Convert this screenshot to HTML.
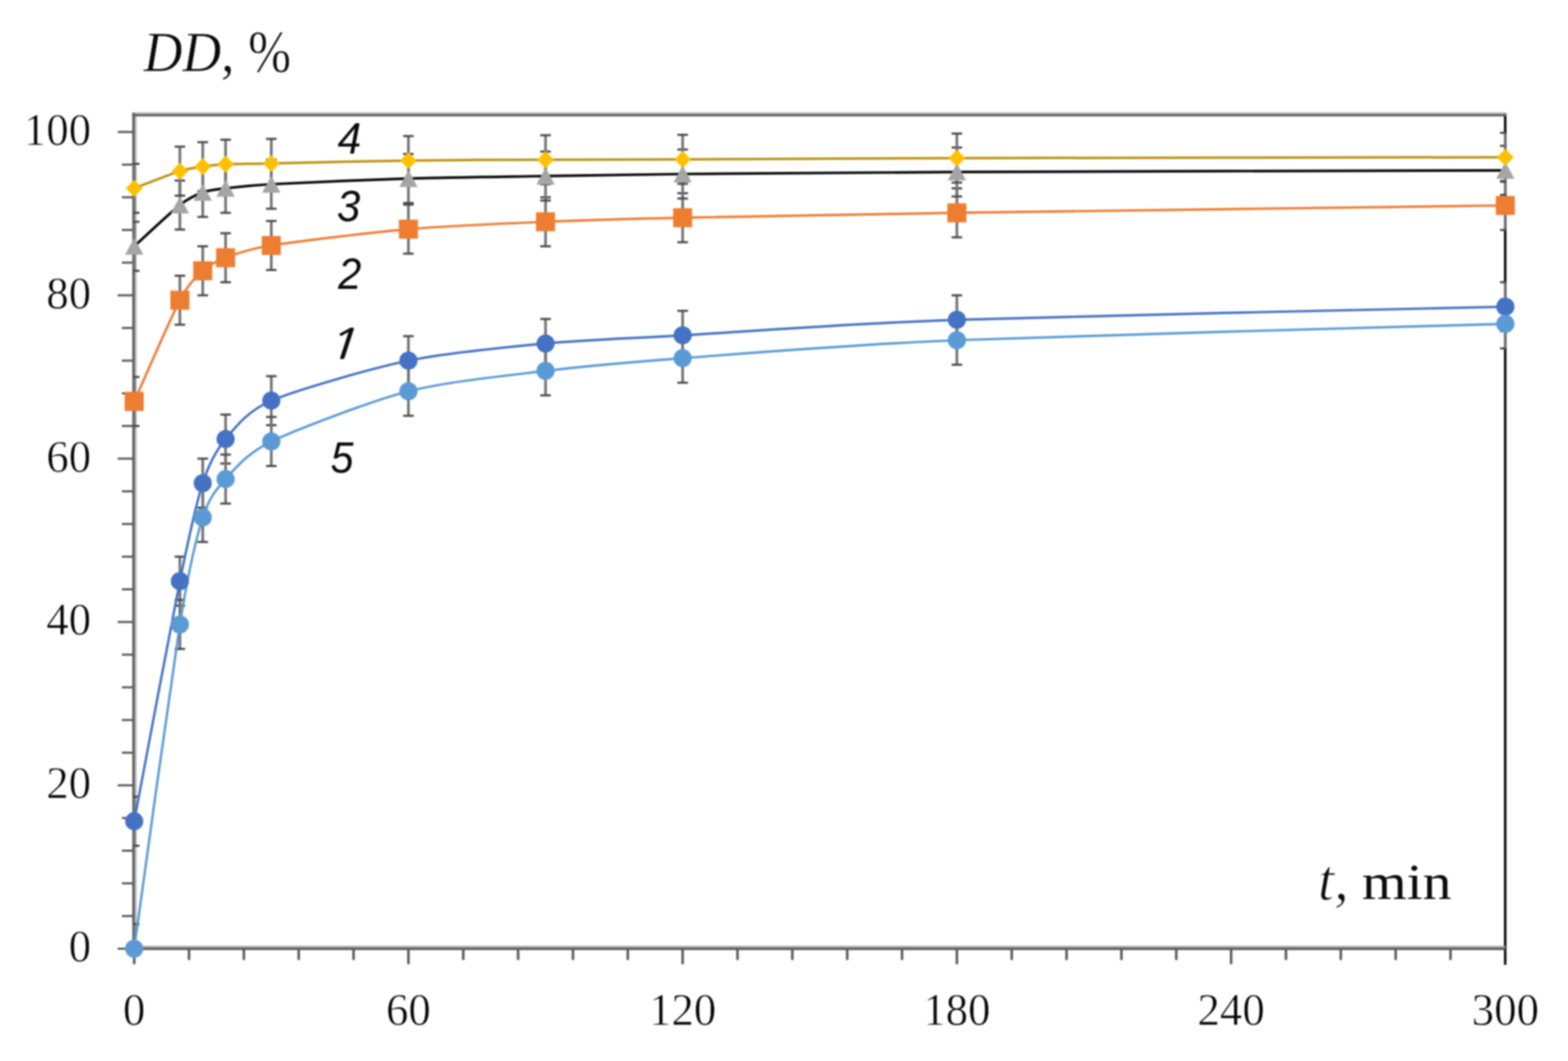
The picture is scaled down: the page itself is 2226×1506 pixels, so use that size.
<!DOCTYPE html>
<html lang="en"><head><meta charset="utf-8"><title>DD, % vs t, min</title>
<style>
html,body{margin:0;padding:0;background:#fff;}
body{width:2226px;height:1506px;overflow:hidden;}
svg{display:block;filter:blur(0.8px);}
.tick{font-family:"Liberation Serif",serif;font-size:65.6px;fill:#050505;stroke:#fff;stroke-width:0.8px;}
.ttl{font-family:"Liberation Serif",serif;fill:#0a0a0a;}
.num{font-family:"Liberation Sans",sans-serif;font-style:italic;font-size:63px;fill:#0a0a0a;}
</style></head><body>
<svg width="2226" height="1506" viewBox="0 0 2226 1506" role="img" aria-label="DD, % versus t, min">
<rect width="2226" height="1506" fill="#fff"/>
<defs><clipPath id="pc"><rect x="189" y="162" width="1949.75" height="1186.5"/></clipPath></defs>
<g id="frame">
<rect x="2135.15" y="162" width="3.4" height="1207.5" fill="#000"/>
<rect x="187.8" y="159.6" width="1950.75" height="2.6" fill="#ababab"/>
<rect x="187.8" y="162.2" width="1950.75" height="3" fill="#5b5b5b"/>
<rect x="187.8" y="160" width="3.4" height="1188.6" fill="#5b5b5b"/>
<rect x="191.2" y="165" width="2.6" height="1177.6" fill="#ababab"/>
<rect x="187.8" y="1342.5" width="1949.25" height="2.6" fill="#ababab"/>
<rect x="187.8" y="1345.1" width="1949.25" height="3.4" fill="#5b5b5b"/>
</g>
<g id="ticks" fill="#5b5b5b">
<rect x="167" y="1345.1" width="22" height="3"/>
<rect x="173" y="1298.73" width="16" height="3"/>
<rect x="173" y="1252.36" width="16" height="3"/>
<rect x="173" y="1205.98" width="16" height="3"/>
<rect x="173" y="1159.61" width="16" height="3"/>
<rect x="167" y="1113.24" width="22" height="3"/>
<rect x="173" y="1066.87" width="16" height="3"/>
<rect x="173" y="1020.5" width="16" height="3"/>
<rect x="173" y="974.12" width="16" height="3"/>
<rect x="173" y="927.75" width="16" height="3"/>
<rect x="167" y="881.38" width="22" height="3"/>
<rect x="173" y="835.01" width="16" height="3"/>
<rect x="173" y="788.64" width="16" height="3"/>
<rect x="173" y="742.26" width="16" height="3"/>
<rect x="173" y="695.89" width="16" height="3"/>
<rect x="167" y="649.52" width="22" height="3"/>
<rect x="173" y="603.15" width="16" height="3"/>
<rect x="173" y="556.78" width="16" height="3"/>
<rect x="173" y="510.4" width="16" height="3"/>
<rect x="173" y="464.03" width="16" height="3"/>
<rect x="167" y="417.66" width="22" height="3"/>
<rect x="173" y="371.29" width="16" height="3"/>
<rect x="173" y="324.92" width="16" height="3"/>
<rect x="173" y="278.54" width="16" height="3"/>
<rect x="173" y="232.17" width="16" height="3"/>
<rect x="167" y="185.8" width="22" height="3"/>
<rect x="188.7" y="1346.6" width="3.6" height="22"/>
<rect x="266.56" y="1346.6" width="3.6" height="16"/>
<rect x="344.42" y="1346.6" width="3.6" height="16"/>
<rect x="422.29" y="1346.6" width="3.6" height="16"/>
<rect x="500.15" y="1346.6" width="3.6" height="16"/>
<rect x="578.01" y="1346.6" width="3.6" height="22"/>
<rect x="655.87" y="1346.6" width="3.6" height="16"/>
<rect x="733.73" y="1346.6" width="3.6" height="16"/>
<rect x="811.6" y="1346.6" width="3.6" height="16"/>
<rect x="889.46" y="1346.6" width="3.6" height="16"/>
<rect x="967.32" y="1346.6" width="3.6" height="22"/>
<rect x="1045.18" y="1346.6" width="3.6" height="16"/>
<rect x="1123.04" y="1346.6" width="3.6" height="16"/>
<rect x="1200.91" y="1346.6" width="3.6" height="16"/>
<rect x="1278.77" y="1346.6" width="3.6" height="16"/>
<rect x="1356.63" y="1346.6" width="3.6" height="22"/>
<rect x="1434.49" y="1346.6" width="3.6" height="16"/>
<rect x="1512.35" y="1346.6" width="3.6" height="16"/>
<rect x="1590.22" y="1346.6" width="3.6" height="16"/>
<rect x="1668.08" y="1346.6" width="3.6" height="16"/>
<rect x="1745.94" y="1346.6" width="3.6" height="22"/>
<rect x="1823.8" y="1346.6" width="3.6" height="16"/>
<rect x="1901.66" y="1346.6" width="3.6" height="16"/>
<rect x="1979.53" y="1346.6" width="3.6" height="16"/>
<rect x="2057.39" y="1346.6" width="3.6" height="16"/>
</g>
<g id="errorbars" clip-path="url(#pc)">
<rect x="188.6" y="1130.97" width="3.8" height="69.56" fill="#737373"/>
<rect x="183" y="1129.47" width="15" height="3" fill="#4a4a4a"/>
<rect x="183" y="1199.03" width="15" height="3" fill="#4a4a4a"/>
<rect x="253.48" y="790.14" width="3.8" height="69.56" fill="#737373"/>
<rect x="247.88" y="788.64" width="15" height="3" fill="#4a4a4a"/>
<rect x="247.88" y="858.19" width="15" height="3" fill="#4a4a4a"/>
<rect x="285.93" y="651.02" width="3.8" height="69.56" fill="#737373"/>
<rect x="280.33" y="649.52" width="15" height="3" fill="#4a4a4a"/>
<rect x="280.33" y="719.08" width="15" height="3" fill="#4a4a4a"/>
<rect x="318.37" y="588.42" width="3.8" height="69.56" fill="#737373"/>
<rect x="312.77" y="586.92" width="15" height="3" fill="#4a4a4a"/>
<rect x="312.77" y="656.48" width="15" height="3" fill="#4a4a4a"/>
<rect x="383.25" y="533.93" width="3.8" height="69.56" fill="#737373"/>
<rect x="377.65" y="532.43" width="15" height="3" fill="#4a4a4a"/>
<rect x="377.65" y="601.99" width="15" height="3" fill="#4a4a4a"/>
<rect x="577.91" y="477.12" width="3.8" height="69.56" fill="#737373"/>
<rect x="572.31" y="475.62" width="15" height="3" fill="#4a4a4a"/>
<rect x="572.31" y="545.18" width="15" height="3" fill="#4a4a4a"/>
<rect x="772.57" y="452.78" width="3.8" height="69.56" fill="#737373"/>
<rect x="766.97" y="451.28" width="15" height="3" fill="#4a4a4a"/>
<rect x="766.97" y="520.84" width="15" height="3" fill="#4a4a4a"/>
<rect x="967.22" y="441.19" width="3.8" height="69.56" fill="#737373"/>
<rect x="961.62" y="439.69" width="15" height="3" fill="#4a4a4a"/>
<rect x="961.62" y="509.24" width="15" height="3" fill="#4a4a4a"/>
<rect x="1356.53" y="419.16" width="3.8" height="69.56" fill="#737373"/>
<rect x="1350.93" y="417.66" width="15" height="3" fill="#4a4a4a"/>
<rect x="1350.93" y="487.22" width="15" height="3" fill="#4a4a4a"/>
<rect x="2135.15" y="400.61" width="3.8" height="69.56" fill="#737373"/>
<rect x="2129.55" y="399.11" width="15" height="3" fill="#4a4a4a"/>
<rect x="2129.55" y="468.67" width="15" height="3" fill="#4a4a4a"/>
<rect x="188.6" y="535.09" width="3.8" height="69.56" fill="#737373"/>
<rect x="183" y="533.59" width="15" height="3" fill="#4a4a4a"/>
<rect x="183" y="603.15" width="15" height="3" fill="#4a4a4a"/>
<rect x="253.48" y="391.34" width="3.8" height="69.56" fill="#737373"/>
<rect x="247.88" y="389.84" width="15" height="3" fill="#4a4a4a"/>
<rect x="247.88" y="459.39" width="15" height="3" fill="#4a4a4a"/>
<rect x="285.93" y="349.6" width="3.8" height="69.56" fill="#737373"/>
<rect x="280.33" y="348.1" width="15" height="3" fill="#4a4a4a"/>
<rect x="280.33" y="417.66" width="15" height="3" fill="#4a4a4a"/>
<rect x="318.37" y="331.05" width="3.8" height="69.56" fill="#737373"/>
<rect x="312.77" y="329.55" width="15" height="3" fill="#4a4a4a"/>
<rect x="312.77" y="399.11" width="15" height="3" fill="#4a4a4a"/>
<rect x="383.25" y="313.66" width="3.8" height="69.56" fill="#737373"/>
<rect x="377.65" y="312.16" width="15" height="3" fill="#4a4a4a"/>
<rect x="377.65" y="381.72" width="15" height="3" fill="#4a4a4a"/>
<rect x="577.91" y="290.48" width="3.8" height="69.56" fill="#737373"/>
<rect x="572.31" y="288.98" width="15" height="3" fill="#4a4a4a"/>
<rect x="572.31" y="358.54" width="15" height="3" fill="#4a4a4a"/>
<rect x="772.57" y="280.04" width="3.8" height="69.56" fill="#737373"/>
<rect x="766.97" y="278.54" width="15" height="3" fill="#4a4a4a"/>
<rect x="766.97" y="348.1" width="15" height="3" fill="#4a4a4a"/>
<rect x="967.22" y="274.25" width="3.8" height="69.56" fill="#737373"/>
<rect x="961.62" y="272.75" width="15" height="3" fill="#4a4a4a"/>
<rect x="961.62" y="342.31" width="15" height="3" fill="#4a4a4a"/>
<rect x="1356.53" y="267.29" width="3.8" height="69.56" fill="#737373"/>
<rect x="1350.93" y="265.79" width="15" height="3" fill="#4a4a4a"/>
<rect x="1350.93" y="335.35" width="15" height="3" fill="#4a4a4a"/>
<rect x="2135.15" y="256.86" width="3.8" height="69.56" fill="#737373"/>
<rect x="2129.55" y="255.36" width="15" height="3" fill="#4a4a4a"/>
<rect x="2129.55" y="324.92" width="15" height="3" fill="#4a4a4a"/>
<rect x="188.6" y="314.82" width="3.8" height="69.56" fill="#737373"/>
<rect x="183" y="313.32" width="15" height="3" fill="#4a4a4a"/>
<rect x="183" y="382.88" width="15" height="3" fill="#4a4a4a"/>
<rect x="253.48" y="256.28" width="3.8" height="69.56" fill="#737373"/>
<rect x="247.88" y="254.78" width="15" height="3" fill="#4a4a4a"/>
<rect x="247.88" y="324.34" width="15" height="3" fill="#4a4a4a"/>
<rect x="285.93" y="238.31" width="3.8" height="69.56" fill="#737373"/>
<rect x="280.33" y="236.81" width="15" height="3" fill="#4a4a4a"/>
<rect x="280.33" y="306.37" width="15" height="3" fill="#4a4a4a"/>
<rect x="318.37" y="232.51" width="3.8" height="69.56" fill="#737373"/>
<rect x="312.77" y="231.01" width="15" height="3" fill="#4a4a4a"/>
<rect x="312.77" y="300.57" width="15" height="3" fill="#4a4a4a"/>
<rect x="383.25" y="226.72" width="3.8" height="69.56" fill="#737373"/>
<rect x="377.65" y="225.22" width="15" height="3" fill="#4a4a4a"/>
<rect x="377.65" y="294.77" width="15" height="3" fill="#4a4a4a"/>
<rect x="577.91" y="218.6" width="3.8" height="69.56" fill="#737373"/>
<rect x="572.31" y="217.1" width="15" height="3" fill="#4a4a4a"/>
<rect x="572.31" y="286.66" width="15" height="3" fill="#4a4a4a"/>
<rect x="772.57" y="215.12" width="3.8" height="69.56" fill="#737373"/>
<rect x="766.97" y="213.62" width="15" height="3" fill="#4a4a4a"/>
<rect x="766.97" y="283.18" width="15" height="3" fill="#4a4a4a"/>
<rect x="967.22" y="212.22" width="3.8" height="69.56" fill="#737373"/>
<rect x="961.62" y="210.72" width="15" height="3" fill="#4a4a4a"/>
<rect x="961.62" y="280.28" width="15" height="3" fill="#4a4a4a"/>
<rect x="1356.53" y="209.33" width="3.8" height="69.56" fill="#737373"/>
<rect x="1350.93" y="207.83" width="15" height="3" fill="#4a4a4a"/>
<rect x="1350.93" y="277.38" width="15" height="3" fill="#4a4a4a"/>
<rect x="2135.15" y="207.01" width="3.8" height="69.56" fill="#737373"/>
<rect x="2129.55" y="205.51" width="15" height="3" fill="#4a4a4a"/>
<rect x="2129.55" y="275.07" width="15" height="3" fill="#4a4a4a"/>
<rect x="188.6" y="232.51" width="3.8" height="69.56" fill="#737373"/>
<rect x="183" y="231.01" width="15" height="3" fill="#4a4a4a"/>
<rect x="183" y="300.57" width="15" height="3" fill="#4a4a4a"/>
<rect x="253.48" y="208.17" width="3.8" height="69.56" fill="#737373"/>
<rect x="247.88" y="206.67" width="15" height="3" fill="#4a4a4a"/>
<rect x="247.88" y="276.23" width="15" height="3" fill="#4a4a4a"/>
<rect x="285.93" y="201.79" width="3.8" height="69.56" fill="#737373"/>
<rect x="280.33" y="200.29" width="15" height="3" fill="#4a4a4a"/>
<rect x="280.33" y="269.85" width="15" height="3" fill="#4a4a4a"/>
<rect x="318.37" y="198.31" width="3.8" height="69.56" fill="#737373"/>
<rect x="312.77" y="196.81" width="15" height="3" fill="#4a4a4a"/>
<rect x="312.77" y="266.37" width="15" height="3" fill="#4a4a4a"/>
<rect x="383.25" y="197.15" width="3.8" height="69.56" fill="#737373"/>
<rect x="377.65" y="195.65" width="15" height="3" fill="#4a4a4a"/>
<rect x="377.65" y="265.21" width="15" height="3" fill="#4a4a4a"/>
<rect x="577.91" y="193.1" width="3.8" height="69.56" fill="#737373"/>
<rect x="572.31" y="191.6" width="15" height="3" fill="#4a4a4a"/>
<rect x="572.31" y="261.15" width="15" height="3" fill="#4a4a4a"/>
<rect x="772.57" y="191.94" width="3.8" height="69.56" fill="#737373"/>
<rect x="766.97" y="190.44" width="15" height="3" fill="#4a4a4a"/>
<rect x="766.97" y="260" width="15" height="3" fill="#4a4a4a"/>
<rect x="967.22" y="191.36" width="3.8" height="69.56" fill="#737373"/>
<rect x="961.62" y="189.86" width="15" height="3" fill="#4a4a4a"/>
<rect x="961.62" y="259.42" width="15" height="3" fill="#4a4a4a"/>
<rect x="1356.53" y="189.62" width="3.8" height="69.56" fill="#737373"/>
<rect x="1350.93" y="188.12" width="15" height="3" fill="#4a4a4a"/>
<rect x="1350.93" y="257.68" width="15" height="3" fill="#4a4a4a"/>
<rect x="2135.15" y="188.46" width="3.8" height="69.56" fill="#737373"/>
<rect x="2129.55" y="186.96" width="15" height="3" fill="#4a4a4a"/>
<rect x="2129.55" y="256.52" width="15" height="3" fill="#4a4a4a"/>
<rect x="188.6" y="1311.82" width="3.8" height="69.56" fill="#737373"/>
<rect x="183" y="1310.32" width="15" height="3" fill="#4a4a4a"/>
<rect x="183" y="1379.88" width="15" height="3" fill="#4a4a4a"/>
<rect x="253.48" y="851.58" width="3.8" height="69.56" fill="#737373"/>
<rect x="247.88" y="850.08" width="15" height="3" fill="#4a4a4a"/>
<rect x="247.88" y="919.64" width="15" height="3" fill="#4a4a4a"/>
<rect x="285.93" y="699.71" width="3.8" height="69.56" fill="#737373"/>
<rect x="280.33" y="767.77" width="15" height="3" fill="#4a4a4a"/>
<rect x="318.37" y="645.22" width="3.8" height="69.56" fill="#737373"/>
<rect x="312.77" y="643.72" width="15" height="3" fill="#4a4a4a"/>
<rect x="312.77" y="713.28" width="15" height="3" fill="#4a4a4a"/>
<rect x="383.25" y="591.9" width="3.8" height="69.56" fill="#737373"/>
<rect x="377.65" y="590.4" width="15" height="3" fill="#4a4a4a"/>
<rect x="377.65" y="659.95" width="15" height="3" fill="#4a4a4a"/>
<rect x="577.91" y="520.6" width="3.8" height="69.56" fill="#737373"/>
<rect x="572.31" y="519.1" width="15" height="3" fill="#4a4a4a"/>
<rect x="572.31" y="588.66" width="15" height="3" fill="#4a4a4a"/>
<rect x="772.57" y="491.62" width="3.8" height="69.56" fill="#737373"/>
<rect x="766.97" y="490.12" width="15" height="3" fill="#4a4a4a"/>
<rect x="766.97" y="559.67" width="15" height="3" fill="#4a4a4a"/>
<rect x="967.22" y="473.65" width="3.8" height="69.56" fill="#737373"/>
<rect x="961.62" y="472.15" width="15" height="3" fill="#4a4a4a"/>
<rect x="961.62" y="541.71" width="15" height="3" fill="#4a4a4a"/>
<rect x="1356.53" y="448.14" width="3.8" height="69.56" fill="#737373"/>
<rect x="1350.93" y="446.64" width="15" height="3" fill="#4a4a4a"/>
<rect x="1350.93" y="516.2" width="15" height="3" fill="#4a4a4a"/>
<rect x="2135.15" y="424.96" width="3.8" height="69.56" fill="#737373"/>
<rect x="2129.55" y="423.46" width="15" height="3" fill="#4a4a4a"/>
<rect x="2129.55" y="493.01" width="15" height="3" fill="#4a4a4a"/>
</g>
<g id="lines" fill="none" stroke-linecap="round" stroke-linejoin="round">
<path d="M190.5 1165.75 C199.15 1120.3 242.41 888.91 255.38 824.91 C268.36 760.92 279.18 712.69 287.83 685.8 C296.48 658.9 307.29 638.81 320.27 623.2 C333.25 607.58 350.55 583.55 385.15 568.71 C419.76 553.87 527.9 522.72 579.81 511.9 C631.72 501.08 722.56 492.35 774.47 487.56 C826.37 482.77 891.26 480.45 969.12 475.97 C1046.98 471.48 1202.71 459.35 1358.43 453.94 C1514.15 448.53 2033.23 437.86 2137.05 435.39" stroke="#4472c4" stroke-width="3.4"/>
<path d="M190.5 569.87 C199.15 550.7 242.41 450.85 255.38 426.12 C268.36 401.38 279.18 392.42 287.83 384.38 C296.48 376.34 307.29 370.62 320.27 365.83 C333.25 361.04 350.55 353.85 385.15 348.44 C419.76 343.03 527.9 329.74 579.81 325.26 C631.72 320.77 722.56 316.99 774.47 314.82 C826.37 312.66 891.26 310.73 969.12 309.03 C1046.98 307.33 1202.71 304.39 1358.43 302.07 C1514.15 299.75 2033.23 293.03 2137.05 291.64" stroke="#ed7d31" stroke-width="3.4"/>
<path d="M190.5 349.6 C199.15 341.8 242.41 301.26 255.38 291.06 C268.36 280.86 279.18 276.26 287.83 273.09 C296.48 269.92 307.29 268.84 320.27 267.29 C333.25 265.75 350.55 263.35 385.15 261.5 C419.76 259.64 527.9 254.93 579.81 253.38 C631.72 251.83 722.56 250.75 774.47 249.9 C826.37 249.05 891.26 247.78 969.12 247 C1046.98 246.23 1202.71 244.8 1358.43 244.11 C1514.15 243.41 2033.23 242.1 2137.05 241.79" stroke="#080808" stroke-width="3.7"/>
<path d="M190.5 267.29 C199.15 264.05 242.41 247.04 255.38 242.95 C268.36 238.85 279.18 237.88 287.83 236.57 C296.48 235.26 307.29 233.71 320.27 233.09 C333.25 232.47 350.55 232.63 385.15 231.93 C419.76 231.24 527.9 228.57 579.81 227.88 C631.72 227.18 722.56 226.95 774.47 226.72 C826.37 226.48 891.26 226.45 969.12 226.14 C1046.98 225.83 1202.71 224.78 1358.43 224.4 C1514.15 224.01 2033.23 223.39 2137.05 223.24" stroke="#bb9210" stroke-width="3.5"/>
<path d="M190.5 1346.6 C199.15 1285.23 242.41 967.97 255.38 886.36 C268.36 804.74 279.18 762 287.83 734.49 C296.48 706.98 307.29 694.38 320.27 680 C333.25 665.63 350.55 643.29 385.15 626.67 C419.76 610.06 527.9 568.75 579.81 555.38 C631.72 542.01 722.56 532.66 774.47 526.4 C826.37 520.14 891.26 514.22 969.12 508.43 C1046.98 502.63 1202.71 489.41 1358.43 482.92 C1514.15 476.43 2033.23 462.83 2137.05 459.74" stroke="#5b9bd5" stroke-width="3.4"/>
</g>
<g id="markers">
<g fill="#4472c4">
<circle cx="190.5" cy="1165.75" r="12.9"/>
<circle cx="255.38" cy="824.91" r="12.9"/>
<circle cx="287.83" cy="685.8" r="12.9"/>
<circle cx="320.27" cy="623.2" r="12.9"/>
<circle cx="385.15" cy="568.71" r="12.9"/>
<circle cx="579.81" cy="511.9" r="12.9"/>
<circle cx="774.47" cy="487.56" r="12.9"/>
<circle cx="969.12" cy="475.97" r="12.9"/>
<circle cx="1358.43" cy="453.94" r="12.9"/>
<circle cx="2137.05" cy="435.39" r="12.9"/>
</g>
<g fill="#ed7d31">
<rect x="177" y="556.37" width="27" height="27"/>
<rect x="241.88" y="412.62" width="27" height="27"/>
<rect x="274.33" y="370.88" width="27" height="27"/>
<rect x="306.77" y="352.33" width="27" height="27"/>
<rect x="371.65" y="334.94" width="27" height="27"/>
<rect x="566.31" y="311.76" width="27" height="27"/>
<rect x="760.97" y="301.32" width="27" height="27"/>
<rect x="955.62" y="295.53" width="27" height="27"/>
<rect x="1344.93" y="288.57" width="27" height="27"/>
<rect x="2123.55" y="278.14" width="27" height="27"/>
</g>
<g fill="#a5a5a5">
<path d="M190.5 337.6 L203.5 361.6 L177.5 361.6 Z"/>
<path d="M255.38 279.06 L268.38 303.06 L242.38 303.06 Z"/>
<path d="M287.83 261.09 L300.83 285.09 L274.83 285.09 Z"/>
<path d="M320.27 255.29 L333.27 279.29 L307.27 279.29 Z"/>
<path d="M385.15 249.5 L398.15 273.5 L372.15 273.5 Z"/>
<path d="M579.81 241.38 L592.81 265.38 L566.81 265.38 Z"/>
<path d="M774.47 237.9 L787.47 261.9 L761.47 261.9 Z"/>
<path d="M969.12 235 L982.12 259 L956.12 259 Z"/>
<path d="M1358.43 232.11 L1371.43 256.11 L1345.43 256.11 Z"/>
<path d="M2137.05 229.79 L2150.05 253.79 L2124.05 253.79 Z"/>
</g>
<g fill="#ffc000">
<path d="M190.5 255.09 L202.3 267.29 L190.5 279.49 L178.7 267.29 Z"/>
<path d="M255.38 230.75 L267.19 242.95 L255.38 255.15 L243.58 242.95 Z"/>
<path d="M287.83 224.37 L299.63 236.57 L287.83 248.77 L276.03 236.57 Z"/>
<path d="M320.27 220.89 L332.07 233.09 L320.27 245.29 L308.47 233.09 Z"/>
<path d="M385.15 219.73 L396.95 231.93 L385.15 244.13 L373.35 231.93 Z"/>
<path d="M579.81 215.68 L591.61 227.88 L579.81 240.08 L568.01 227.88 Z"/>
<path d="M774.47 214.52 L786.26 226.72 L774.47 238.92 L762.67 226.72 Z"/>
<path d="M969.12 213.94 L980.92 226.14 L969.12 238.34 L957.32 226.14 Z"/>
<path d="M1358.43 212.2 L1370.23 224.4 L1358.43 236.6 L1346.63 224.4 Z"/>
<path d="M2137.05 211.04 L2148.85 223.24 L2137.05 235.44 L2125.25 223.24 Z"/>
</g>
<g fill="#5b9bd5">
<circle cx="190.5" cy="1346.6" r="12.9"/>
<circle cx="255.38" cy="886.36" r="12.9"/>
<circle cx="287.83" cy="734.49" r="12.9"/>
<circle cx="320.27" cy="680" r="12.9"/>
<circle cx="385.15" cy="626.67" r="12.9"/>
<circle cx="579.81" cy="555.38" r="12.9"/>
<circle cx="774.47" cy="526.4" r="12.9"/>
<circle cx="969.12" cy="508.43" r="12.9"/>
<circle cx="1358.43" cy="482.92" r="12.9"/>
<circle cx="2137.05" cy="459.74" r="12.9"/>
</g>
</g>
<g id="ylabels" class="tick" text-anchor="end">
<text transform="translate(129.3 1365.2) scale(0.97 1)">0</text>
<text transform="translate(129.3 1133.34) scale(0.97 1)">20</text>
<text transform="translate(129.3 901.48) scale(0.97 1)">40</text>
<text transform="translate(129.3 669.62) scale(0.97 1)">60</text>
<text transform="translate(129.3 437.76) scale(0.97 1)">80</text>
<text transform="translate(129.3 205.9) scale(0.97 1)">100</text>
</g>
<g id="xlabels" class="tick" text-anchor="middle">
<text transform="translate(190.5 1455.4) scale(0.97 1)">0</text>
<text transform="translate(579.81 1455.4) scale(0.97 1)">60</text>
<text transform="translate(969.12 1455.4) scale(0.97 1)">120</text>
<text transform="translate(1358.43 1455.4) scale(0.97 1)">180</text>
<text transform="translate(1747.74 1455.4) scale(0.97 1)">240</text>
<text transform="translate(2137.05 1455.4) scale(0.97 1)">300</text>
</g>
<g id="titles" class="ttl">
<text transform="translate(203.9 101) scale(0.953 1)" font-size="79.9" font-style="italic" stroke="#fff" stroke-width="0.6">DD,</text>
<text transform="translate(352.3 102.4) scale(0.859 1)" font-size="85.1" stroke="#fff" stroke-width="0.8">%</text>
<text transform="translate(1870.9 1276.6) scale(1.0 1)" font-size="82.8" font-style="italic" stroke="#fff" stroke-width="1.2">t,</text>
<text transform="translate(1933.5 1276.2) scale(1.134 1)" font-size="72">min</text>
</g>
<g id="serieslabels" class="num">
<text transform="translate(479.3 218) scale(0.96 1)">4</text>
<text transform="translate(478.3 314) scale(0.95 1)">3</text>
<text transform="translate(480 410.3) scale(0.94 1)">2</text>
<text transform="translate(460.2 509.4) scale(1.3 1)" font-family="NanumGothic, 'Liberation Sans', sans-serif" font-weight="normal" font-size="58.4" stroke="#0a0a0a" stroke-width="0.7">1</text>
<text transform="translate(469.3 670.9) scale(0.93 1)">5</text>
</g>
</svg>
</body></html>
